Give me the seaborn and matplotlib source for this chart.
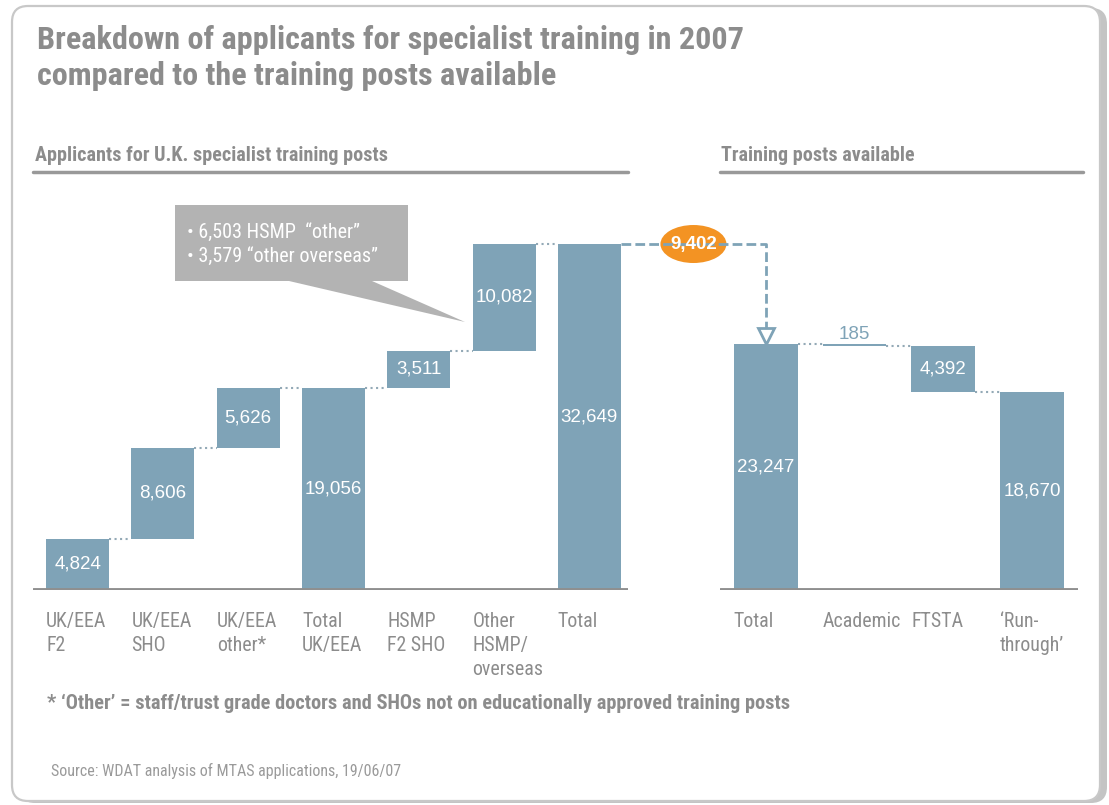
"""Waterfall: applicants for specialist training in 2007 vs training posts available."""
import matplotlib

matplotlib.use("Agg")
import matplotlib.pyplot as plt
from matplotlib.lines import Line2D
from matplotlib.patches import Ellipse, FancyBboxPatch, Polygon
from matplotlib.transforms import IdentityTransform
import pandas as pd
import seaborn as sns

sns.set_theme(style="white")
NARROW = ["Roboto Condensed", "Liberation Sans Narrow", "Roboto", "DejaVu Sans"]
plt.rcParams["font.family"] = NARROW
NUM_FONT = ["Liberation Sans", "DejaVu Sans"]

# Data
title_lines = ["Breakdown of applicants for specialist training in 2007", "compared to the training posts available"]
left_header = "Applicants for U.K. specialist training posts"
right_header = "Training posts available"

applicant_labels = ["UK/EEA\nF2", "UK/EEA\nSHO", "UK/EEA\nother*", "Total\nUK/EEA", "HSMP\nF2 SHO", "Other\nHSMP/\noverseas", "Total"]
applicant_values = [4824, 8606, 5626, 19056, 3511, 10082, 32649]
applicant_kind = ["plus", "plus", "plus", "total", "plus", "plus", "total"]

post_labels = ["Total", "Academic", "FTSTA", "\u2018Run-\nthrough\u2019"]
post_values = [23247, 185, 4392, 18670]
post_kind = ["total", "minus", "minus", "total"]

callout_lines = ["\u2022 6,503 HSMP  \u201cother\u201d", "\u2022 3,579 \u201cother overseas\u201d"]
footnote = "* \u2018Other\u2019 = staff/trust grade doctors and SHOs not on educationally approved training posts"
source = "Source: WDAT analysis of MTAS applications, 19/06/07"

BAR = "#7fa3b7"
GREY_TXT = "#8c8c8c"
W, H = 1109, 805


def px(x, y):
    """Pixel position (from top-left) to figure fraction."""
    return x / W, 1 - y / H


def waterfall(values, kinds):
    bottoms, levels = [], []
    level = 0
    for v, k in zip(values, kinds):
        if k == "total":
            bottoms.append(0)
            level = v
        elif k == "plus":
            bottoms.append(level)
            level += v
        else:
            level -= v
            bottoms.append(level)
        levels.append(level)
    return bottoms, levels


def draw_waterfall(ax, labels, values, kinds, width, xlim, small_above=()):
    bottoms, levels = waterfall(values, kinds)
    df = pd.DataFrame({"label": labels, "value": values})
    sns.barplot(data=df, x="label", y="value", bottom=bottoms, color=BAR, saturation=1,
                width=width, errorbar=None, edgecolor="none", ax=ax)
    for i in range(len(values) - 1):
        ax.hlines(levels[i], i + width / 2, i + 1 - width / 2, color="#93a9b6", lw=1.5, linestyles=":")
    for i, (v, b) in enumerate(zip(values, bottoms)):
        txt = f"{v:,}"
        if i in small_above:
            ax.annotate(txt, (i, b + v), xytext=(0, 1), textcoords="offset pixels", ha="center", va="bottom",
                        color=BAR, fontsize=13.5, family=NUM_FONT)
        else:
            ax.text(i, b + v / 2, txt, ha="center", va="center", color="white", fontsize=13.5, family=NUM_FONT)
        ax.annotate(labels[i], (i - width / 2, 0), xycoords=ax.get_xaxis_transform(), xytext=(0, -22),
                    textcoords="offset pixels", ha="left", va="top", color=GREY_TXT, fontsize=14.3,
                    linespacing=1.34)
    ax.axhline(0, color="#8f8f8f", lw=3.5, zorder=5)
    ax.set_xlim(*xlim)
    ax.set_ylim(0, 36000)
    ax.set_xlabel("")
    ax.set_ylabel("")
    ax.set_xticks([])
    ax.set_yticks([])
    sns.despine(ax=ax, left=True, bottom=True)
    return bottoms, levels


fig = plt.figure(figsize=(W / 100, H / 100), dpi=100)

# Frame with a soft shadow on the right
fig.add_artist(FancyBboxPatch((19 / 100, 2 / 100), 1088 / 100, 795 / 100, boxstyle="round,pad=0,rounding_size=0.16",
                              transform=fig.dpi_scale_trans, fc="#c4c4c4", ec="none", zorder=0))
fig.add_artist(FancyBboxPatch((12 / 100, 4 / 100), 1088 / 100, 795 / 100, boxstyle="round,pad=0,rounding_size=0.16",
                              transform=fig.dpi_scale_trans, fc="white", ec="#c8c8c8", lw=1.6, zorder=0))

y0, yh = (805 - 590) / H, 381.5 / H
ax_l = fig.add_axes([33 / W, y0, (628 - 33) / W, yh])
ax_r = fig.add_axes([720 / W, y0, (1078 - 720) / W, yh])
ax_l.patch.set_alpha(0)
ax_r.patch.set_alpha(0)

_, lev_l = draw_waterfall(ax_l, applicant_labels, applicant_values, applicant_kind, 0.74, (-0.523, 6.452))
_, lev_r = draw_waterfall(ax_r, post_labels, post_values, post_kind, 0.72, (-0.517, 3.519), small_above=(1,))

# Titles and section headers
fig.text(*px(37, 49), title_lines[0], fontsize=23.2, weight="bold", color=GREY_TXT, va="baseline")
fig.text(*px(37, 85), title_lines[1], fontsize=23.2, weight="bold", color=GREY_TXT, va="baseline")
fig.text(*px(35, 161), left_header, fontsize=14.5, weight="bold", color=GREY_TXT, va="baseline")
fig.text(*px(721, 161), right_header, fontsize=14.5, weight="bold", color=GREY_TXT, va="baseline")
for x0, x1 in [(33, 628), (720, 1083)]:
    fig.add_artist(Line2D([x0 / W, x1 / W], [1 - 172 / H] * 2, color="#999999", lw=2.5))

# Callout box
pts = [(175, 205), (408, 205), (408, 281), (372, 281), (465, 322), (289, 281), (175, 281)]
fig.add_artist(Polygon([px(x, y) for x, y in pts], closed=True, fc="#b3b3b3", ec="none"))
for i, line in enumerate(callout_lines):
    fig.text(*px(187, 232 + 24 * i), line, color="white", fontsize=14.5, va="center")

# Gap between applicants and posts
gap = applicant_values[-1] - post_values[0]
xa, ya = ax_l.transData.transform((len(applicant_values) - 1 + 0.37, applicant_values[-1]))
xb, yb = ax_r.transData.transform((0, post_values[0]))
ident = IdentityTransform()
fig.add_artist(Line2D([xa, xb, xb], [ya, ya, yb + 16], transform=ident, color=BAR, lw=2, dashes=(3.5, 1.5)))
fig.add_artist(Line2D([xb], [yb + 8], transform=ident, marker="v", ms=12, mfc="white", mec=BAR, mew=2))
fig.add_artist(Ellipse(((xa + xb) / 2, ya), 66, 38, transform=ident, fc="#f39323", ec="none"))
fig.text((xa + xb) / 2, ya, f"{gap:,}", transform=ident, ha="center", va="center", color="white",
         fontsize=13.5, weight="bold", family=NUM_FONT)

fig.text(*px(47, 709), footnote, fontsize=14.7, weight="bold", color=GREY_TXT, va="baseline")
fig.text(*px(51, 776), source, fontsize=11.5, color="#9a9a9a", va="baseline")

fig.savefig("out.png", dpi=100)
